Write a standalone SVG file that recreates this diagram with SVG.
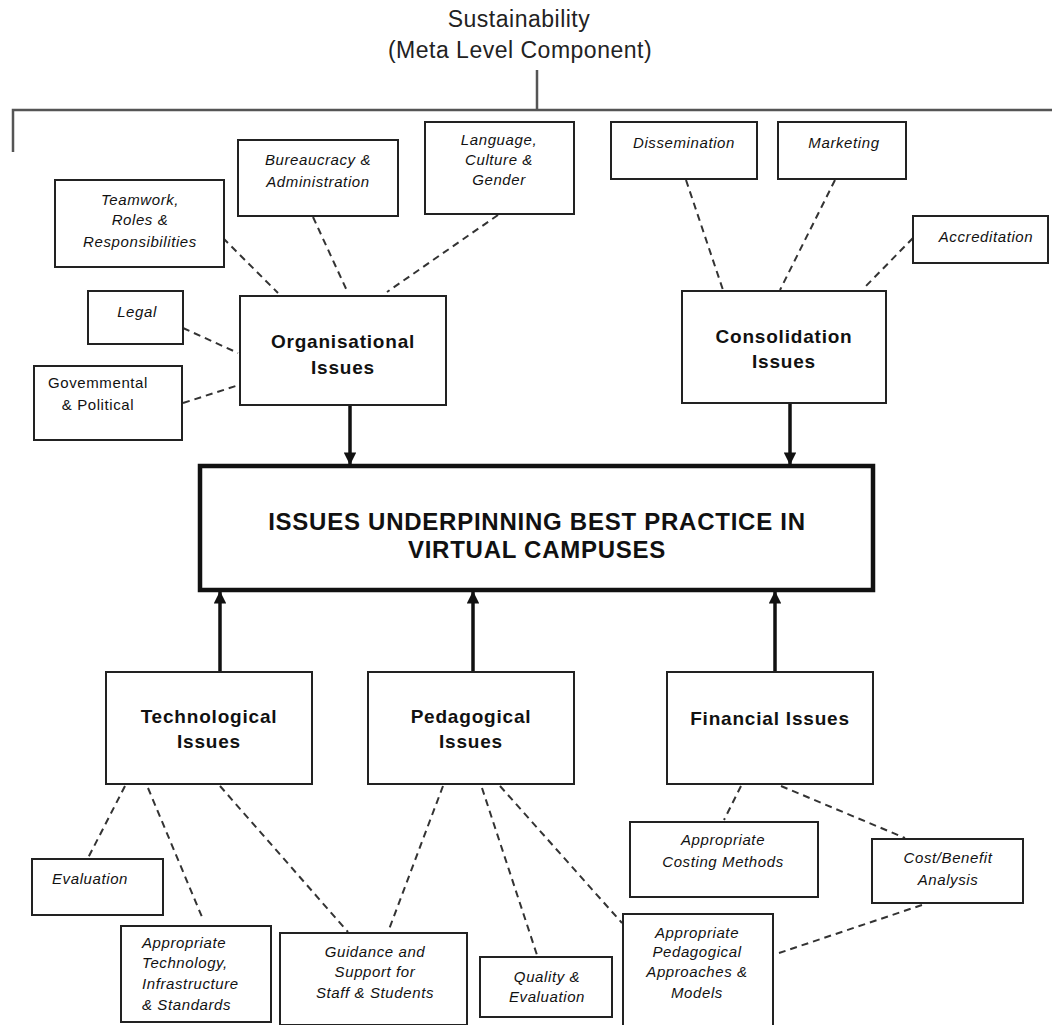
<svg xmlns="http://www.w3.org/2000/svg" width="1052" height="1025" viewBox="0 0 1052 1025">
<style>
.box{fill:#fff;stroke:#222;stroke-width:2}
.main{fill:#fff;stroke:#111;stroke-width:4.5}
.lbl{font-family:"Liberation Sans",Arial,sans-serif;font-style:italic;font-size:15px;letter-spacing:0.6px;fill:#111;text-anchor:middle}
.lft{text-anchor:start}
.nd{font-family:"Liberation Sans",Arial,sans-serif;font-weight:bold;font-size:19px;letter-spacing:0.8px;fill:#111;text-anchor:middle}
.mt{font-family:"Liberation Sans",Arial,sans-serif;font-weight:bold;font-size:24px;letter-spacing:0.75px;fill:#111;text-anchor:middle}
.top{font-family:"Liberation Sans",Arial,sans-serif;font-size:23px;letter-spacing:0.5px;fill:#222;text-anchor:middle}
.dash{stroke:#333;stroke-width:2;stroke-dasharray:7 5;fill:none}
.arr{stroke:#111;stroke-width:3.5;fill:none}
.br{stroke:#555;stroke-width:2.5;fill:none}
</style>
<defs>
<marker id="ah" viewBox="0 0 10 10" refX="10" refY="5" markerWidth="3.6" markerHeight="3.6" markerUnits="strokeWidth" orient="auto">
<path d="M0,0 L10,5 L0,10 z" fill="#111"/>
</marker>
</defs>
<rect width="1052" height="1025" fill="#fff"/>

<g id="sustainability">
<text class="top" x="519" y="27">Sustainability</text>
<text class="top" x="520" y="58">(Meta Level Component)</text>
<path class="br" d="M537,70 V110 M13,152 V110 H1052"/>
</g>

<g id="connectors">
<line class="dash" x1="223" y1="238" x2="278" y2="293"/>
<line class="dash" x1="313" y1="217" x2="348" y2="293"/>
<line class="dash" x1="498" y1="215" x2="387" y2="292"/>
<line class="dash" x1="183" y1="328" x2="238" y2="353"/>
<line class="dash" x1="183" y1="403" x2="239" y2="385"/>
<line class="dash" x1="686" y1="180" x2="723" y2="290"/>
<line class="dash" x1="835" y1="180" x2="780" y2="290"/>
<line class="dash" x1="913" y1="238" x2="864" y2="288"/>
<line class="dash" x1="125" y1="786" x2="88" y2="858"/>
<line class="dash" x1="148" y1="788" x2="202" y2="917"/>
<line class="dash" x1="220" y1="786" x2="348" y2="932"/>
<line class="dash" x1="443" y1="786" x2="388" y2="932"/>
<line class="dash" x1="482" y1="788" x2="537" y2="955"/>
<line class="dash" x1="500" y1="786" x2="622" y2="923"/>
<line class="dash" x1="741" y1="786" x2="724" y2="820"/>
<line class="dash" x1="781" y1="786" x2="905" y2="838"/>
<line class="dash" x1="922" y1="905" x2="779" y2="953"/>
<line class="arr" x1="350" y1="405" x2="350" y2="465" marker-end="url(#ah)"/>
<line class="arr" x1="790" y1="403" x2="790" y2="465" marker-end="url(#ah)"/>
<line class="arr" x1="220" y1="672" x2="220" y2="591" marker-end="url(#ah)"/>
<line class="arr" x1="473" y1="672" x2="473" y2="591" marker-end="url(#ah)"/>
<line class="arr" x1="775" y1="672" x2="775" y2="591" marker-end="url(#ah)"/>
</g>

<g id="main">
<rect class="main" x="200" y="466" width="673" height="124"/>
<text class="mt" x="537" y="530">ISSUES UNDERPINNING BEST PRACTICE IN</text>
<text class="mt" x="537" y="558">VIRTUAL CAMPUSES</text>
</g>

<g id="organisational">
<rect class="box" x="240" y="296" width="206" height="109"/>
<text class="nd" x="343" y="348">Organisational</text>
<text class="nd" x="343" y="374">Issues</text>
</g>
<g id="consolidation">
<rect class="box" x="682" y="291" width="204" height="112"/>
<text class="nd" x="784" y="343">Consolidation</text>
<text class="nd" x="784" y="368">Issues</text>
</g>
<g id="technological">
<rect class="box" x="106" y="672" width="206" height="112"/>
<text class="nd" x="209" y="723">Technological</text>
<text class="nd" x="209" y="748">Issues</text>
</g>
<g id="pedagogical">
<rect class="box" x="368" y="672" width="206" height="112"/>
<text class="nd" x="471" y="723">Pedagogical</text>
<text class="nd" x="471" y="748">Issues</text>
</g>
<g id="financial">
<rect class="box" x="667" y="672" width="206" height="112"/>
<text class="nd" x="770" y="725">Financial Issues</text>
</g>

<g id="teamwork">
<rect class="box" x="55" y="180" width="169" height="87"/>
<text class="lbl" x="140" y="205">Teamwork,</text>
<text class="lbl" x="140" y="225">Roles &amp;</text>
<text class="lbl" x="140" y="247">Responsibilities</text>
</g>
<g id="bureaucracy">
<rect class="box" x="238" y="140" width="160" height="76"/>
<text class="lbl" x="318" y="165">Bureaucracy &amp;</text>
<text class="lbl" x="318" y="187">Administration</text>
</g>
<g id="language">
<rect class="box" x="425" y="122" width="149" height="92"/>
<text class="lbl" x="499" y="145">Language,</text>
<text class="lbl" x="499" y="165">Culture &amp;</text>
<text class="lbl" x="499" y="185">Gender</text>
</g>
<g id="legal">
<rect class="box" x="88" y="291" width="95" height="53"/>
<text class="lbl" x="137" y="317">Legal</text>
</g>
<g id="governmental">
<rect class="box" x="34" y="366" width="148" height="74"/>
<text class="lbl" x="98" y="388" style="font-style:normal">Govemmental</text>
<text class="lbl" x="98" y="410" style="font-style:normal">&amp; Political</text>
</g>
<g id="dissemination">
<rect class="box" x="611" y="122" width="146" height="57"/>
<text class="lbl" x="684" y="148">Dissemination</text>
</g>
<g id="marketing">
<rect class="box" x="778" y="122" width="128" height="57"/>
<text class="lbl" x="844" y="148">Marketing</text>
</g>
<g id="accreditation">
<rect class="box" x="913" y="216" width="135" height="47"/>
<text class="lbl" x="986" y="242">Accreditation</text>
</g>
<g id="evaluation">
<rect class="box" x="32" y="859" width="131" height="56"/>
<text class="lbl lft" x="52" y="884">Evaluation</text>
</g>
<g id="appropriate-technology">
<rect class="box" x="121" y="926" width="150" height="96"/>
<text class="lbl lft" x="142" y="948">Appropriate</text>
<text class="lbl lft" x="142" y="968">Technology,</text>
<text class="lbl lft" x="142" y="989">Infrastructure</text>
<text class="lbl lft" x="142" y="1010">&amp; Standards</text>
</g>
<g id="guidance">
<rect class="box" x="280" y="933" width="187" height="92"/>
<text class="lbl" x="375" y="957">Guidance and</text>
<text class="lbl" x="375" y="977">Support for</text>
<text class="lbl" x="375" y="998">Staff &amp; Students</text>
</g>
<g id="quality">
<rect class="box" x="480" y="957" width="132" height="60"/>
<text class="lbl" x="547" y="982">Quality &amp;</text>
<text class="lbl" x="547" y="1002">Evaluation</text>
</g>
<g id="appropriate-pedagogical">
<rect class="box" x="623" y="914" width="150" height="116"/>
<text class="lbl" x="697" y="938">Appropriate</text>
<text class="lbl" x="697" y="957">Pedagogical</text>
<text class="lbl" x="697" y="977">Approaches &amp;</text>
<text class="lbl" x="697" y="998">Models</text>
</g>
<g id="costing">
<rect class="box" x="630" y="822" width="188" height="75"/>
<text class="lbl" x="723" y="845">Appropriate</text>
<text class="lbl" x="723" y="867">Costing Methods</text>
</g>
<g id="cost-benefit">
<rect class="box" x="872" y="839" width="151" height="64"/>
<text class="lbl" x="948" y="863">Cost/Benefit</text>
<text class="lbl" x="948" y="885">Analysis</text>
</g>
</svg>
